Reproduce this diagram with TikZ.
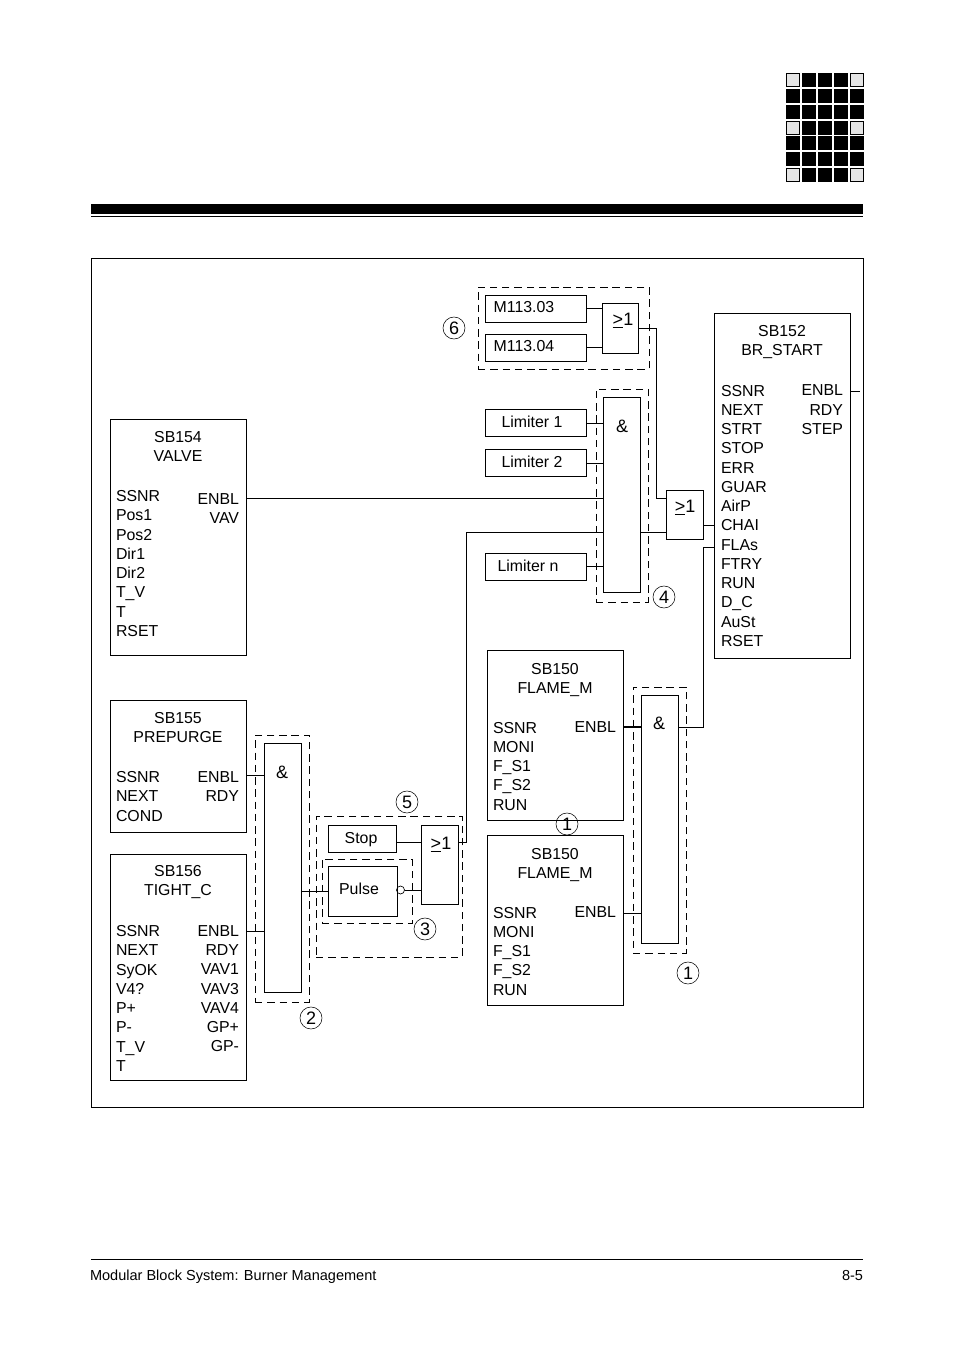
\documentclass[tikz,border=0pt]{standalone}
\usepackage{fontspec}
\setmainfont{Liberation Sans}
\newcommand{\txtfont}{\fontsize{11.9}{14.44}\selectfont}
\newcommand{\bigfont}{\fontsize{13.5}{16}\selectfont}
\tikzset{
  wire/.style={line width=0.7pt},
  box/.style={draw,line width=0.7pt,rectangle,inner sep=0pt,outer sep=0pt,font=\txtfont},
  gatebox/.style={box},
  dashbox/.style={draw,line width=0.7pt,rectangle,inner sep=0pt,outer sep=0pt,dash pattern=on 5.6pt off 3.6pt},
  txt/.style={inner sep=0pt,outer sep=0pt,font=\txtfont},
  llist/.style={txt,align=left,anchor=north west},
  rlist/.style={txt,align=right,anchor=north east},
  title/.style={txt,align=center,anchor=north},
  sym/.style={inner sep=0pt,outer sep=0pt,font=\bigfont},
  numc/.style={draw,circle,line width=0.4pt,minimum size=16.5pt,inner sep=0pt,outer sep=0pt,font=\bigfont},
  invc/.style={draw,circle,line width=0.5pt,minimum size=6pt,inner sep=0pt,outer sep=0pt},
  lcell/.style={draw=black,fill=black!10,line width=0.8pt},
  dcell/.style={fill=black}
}
% name, x1, y1, x2, y2, options
\newcommand{\blk}[6][box]{\node[#1,minimum width={(#4-#2)*0.75pt},minimum height={(#5-#3)*0.75pt}] (#2) at ({(#3+#5)/2},{(#4+#6)/2}) {};}
\newcommand{\rct}[6][box]{\node[#1,minimum width={(#5-#3)*0.75pt},minimum height={(#6-#4)*0.75pt}] (#2) at ({(#3+#5)/2},{(#4+#6)/2}) {};}
\newcommand{\gor}{\underline{>}1}
\begin{document}
\begin{tikzpicture}[x=0.75pt,y=-0.75pt]
\useasboundingbox (0,0) rectangle (954,1351);
\fill[white] (0,0) rectangle (954,1351);
% header icon
\foreach \r/\pat in {0/10001,1/01110,2/01110,3/10001,4/01110,5/01110,6/10001}{
  \foreach \c in {0,...,4}{
    \pgfmathsetmacro{\xa}{786+16*\c}
    \pgfmathsetmacro{\ya}{73.3+15.8*\r}
    \pgfmathtruncatemacro{\bit}{mod(floor(\pat/10^(4-\c)),10)}
    \ifnum\bit=1
      \draw[lcell] (\xa+0.5,\ya+0.5) rectangle (\xa+13.5,\ya+13.5);
    \else
      \fill[dcell] (\xa,\ya) rectangle (\xa+14,\ya+14);
    \fi
  }
}
% header bar
\fill[black] (91,204) rectangle (863,214);
\fill[black] (91,215.7) rectangle (863,217);
% frame
\draw[line width=0.7pt] (91.5,258) rectangle (863.5,1107);
% footer
\draw[line width=0.6pt] (91,1259.5) -- (863,1259.5);
\node[txt,anchor=base west,font=\fontsize{10.9}{13}\selectfont] (foot) at (90,1280) {Modular Block System: Burner Management};
\node[txt,anchor=base east,font=\fontsize{10.9}{13}\selectfont] (pageno) at (863,1280) {8-5};

% dashed groups
\rct[dashbox]{d6}{478}{287}{649}{369}
\rct[dashbox]{d4}{596}{389}{648}{602}
\rct[dashbox]{d2}{255}{735}{309}{1002}
\rct[dashbox]{d5}{316}{816}{462}{957}
\rct[dashbox]{d3}{322}{859}{412}{923}
\rct[dashbox]{d1}{633}{687}{686}{953}

% function blocks
\rct{sb154}{110}{419}{246}{655}
\rct{sb155}{110}{700}{246}{832}
\rct{sb156}{110}{854}{246}{1080}
\rct{sbA}{487}{650}{623}{820}
\rct{sbB}{487}{835}{623}{1005}
\rct{sb152}{714}{313}{850}{658}

\node[title] (t154) at (178,431) {SB154\\VALVE};
\node[llist] (l154) at (116,490.5) {SSNR\\Pos1\\Pos2\\Dir1\\Dir2\\T\_V\\T\\RSET};
\node[rlist] (r154) at (239,493.5) {ENBL\\VAV};

\node[title] (t155) at (178,712) {SB155\\PREPURGE};
\node[llist] (l155) at (116,771.5) {SSNR\\NEXT\\COND};
\node[rlist] (r155) at (239,771.5) {ENBL\\RDY};

\node[title] (t156) at (178,865.5) {SB156\\TIGHT\_C};
\node[llist] (l156) at (116,925.5) {SSNR\\NEXT\\SyOK\\V4?\\P+\\P-\\T\_V\\T};
\node[rlist] (r156) at (239,925.5) {ENBL\\RDY\\VAV1\\VAV3\\VAV4\\GP+\\GP-};

\node[title] (tA) at (555,663) {SB150\\FLAME\_M};
\node[llist] (lA) at (493,722) {SSNR\\MONI\\F\_S1\\F\_S2\\RUN};
\node[rlist] (rA) at (616,722) {ENBL};

\node[title] (tB) at (555,848) {SB150\\FLAME\_M};
\node[llist] (lB) at (493,907) {SSNR\\MONI\\F\_S1\\F\_S2\\RUN};
\node[rlist] (rB) at (616,907) {ENBL};

\node[title] (t152) at (782,325.5) {SB152\\BR\_START};
\node[llist] (l152) at (721,385) {SSNR\\NEXT\\STRT\\STOP\\ERR\\GUAR\\AirP\\CHAI\\FLAs\\FTRY\\RUN\\D\_C\\AuSt\\RSET};
\node[rlist] (r152) at (843,385) {ENBL\\RDY\\STEP};

% simple input boxes
\rct{m3}{485}{295}{586}{322}
\rct{m4}{485}{334}{586}{361}
\rct{lim1}{485}{409}{586}{436}
\rct{lim2}{485}{449}{586}{476}
\rct{limn}{485}{553}{586}{580}
\rct{stop}{328}{825}{396}{852}
\rct{pulse}{328}{866}{397}{916}
\node[txt] (tm3) at (524,307.5) {M113.03};
\node[txt] (tm4) at (524,346.5) {M113.04};
\node[txt] (tl1) at (532,421.5) {Limiter 1};
\node[txt] (tl2) at (532,461.5) {Limiter 2};
\node[txt] (tln) at (528,565.5) {Limiter n};
\node[txt] (tst) at (361,840) {Stop};
\node[txt] (tpu) at (359,889) {Pulse};

% gates
\rct{or6}{602}{303}{638}{353}
\rct{orm}{666}{490}{703}{539}
\rct{or5}{421}{825}{458}{904}
\rct{and4}{603}{397}{640}{592}
\rct{and1}{641}{695}{678}{943}
\rct{and2}{264}{743}{301}{992}
\node[sym] (g6) at (623,321) {\gor};
\node[sym] (gm) at (685,508) {\gor};
\node[sym] (g5) at (441,845) {\gor};
\node[sym] (a4) at (622,426) {\&};
\node[sym] (a1) at (659,723) {\&};
\node[sym] (a2) at (282,772) {\&};
\node[invc] (inv) at (400.5,890) {};

% connectors
\draw[wire] (m3.east |- 0,308) -- (or6.west |- 0,308);
\draw[wire] (m4.east |- 0,347) -- (or6.west |- 0,347);
\draw[wire] (or6.east |- 0,328) -| (656,498) -- (orm.west |- 0,498);
\draw[wire] (lim1.east |- 0,423) -- (and4.west |- 0,423);
\draw[wire] (lim2.east |- 0,463) -- (and4.west |- 0,463);
\draw[wire] (limn.east |- 0,566) -- (and4.west |- 0,566);
\draw[wire] (sb154.east |- 0,498) -- (and4.west |- 0,498);
\draw[wire] (or5.east |- 0,842) -| (466,532) -- (and4.west |- 0,532);
\draw[wire] (and4.east |- 0,532) -- (orm.west |- 0,532);
\draw[wire] (orm.east |- 0,525) -- (sb152.west |- 0,525);
\draw[wire] (and1.east |- 0,727) -| (703.5,547) -- (sb152.west |- 0,547);
\draw[line width=1.3pt] (sbA.east |- 0,727) -- (and1.west |- 0,727);
\draw[wire] (sbB.east |- 0,913) -- (and1.west |- 0,913);
\draw[wire] (sb155.east |- 0,775) -- (and2.west |- 0,775);
\draw[wire] (sb156.east |- 0,931) -- (and2.west |- 0,931);
\draw[wire] (and2.east |- 0,891) -- (pulse.west |- 0,891);
\draw[wire] (stop.east |- 0,842) -- (or5.west |- 0,842);
\draw[wire] (pulse.east |- inv) -- (inv.west);
\draw[wire] (inv.east) -- (or5.west |- inv);
\coordinate (enblend) at (860,391);
\draw[wire] (sb152.east |- enblend) -- (enblend);

% numbered circles
\node[numc] (n6) at (454,328) {6};
\node[numc] (n4) at (664,597) {4};
\node[numc] (n5) at (407,802) {5};
\node[numc] (n3) at (425,929) {3};
\node[numc] (n2) at (311,1018) {2};
\node[numc] (n1a) at (567,824) {1};
\node[numc] (n1b) at (688,973) {1};
\end{tikzpicture}
\end{document}
